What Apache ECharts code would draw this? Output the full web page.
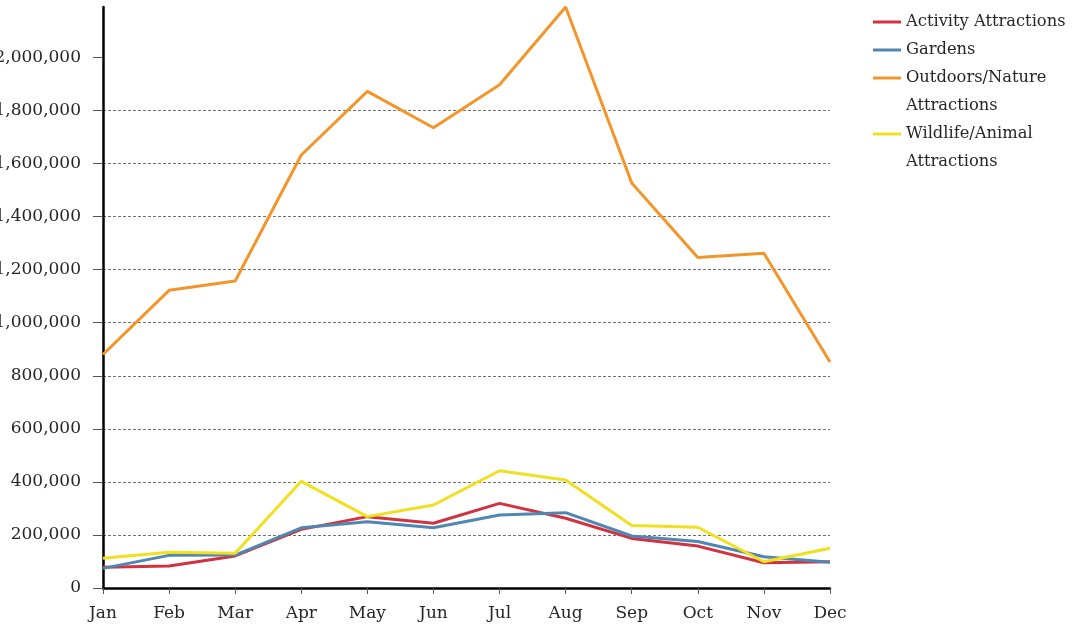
<!DOCTYPE html>
<html>
<head>
<meta charset="utf-8">
<title>Monthly visitors by attraction type</title>
<script src="https://cdn.jsdelivr.net/npm/echarts@6/dist/echarts.min.js"></script>
<style>
  html, body { margin: 0; padding: 0; background: #ffffff; }
  #chart { width: 1078px; height: 629px; }
</style>
</head>
<body>
<div id="chart"></div>
<script>
// Months along the x axis
const months = ['Jan', 'Feb', 'Mar', 'Apr', 'May', 'Jun', 'Jul', 'Aug', 'Sep', 'Oct', 'Nov', 'Dec'];

// Monthly visitors per attraction type
const activityAttractions = [78000, 83000, 121000, 221000, 269000, 244000, 319000, 263000, 187000, 158000, 95000, 99000];
const gardens = [74000, 123000, 124000, 227000, 250000, 227000, 275000, 284000, 196000, 175000, 118000, 97000];
const outdoorsNature = [880000, 1122000, 1157000, 1632000, 1872000, 1735000, 1897000, 2190000, 1527000, 1246000, 1262000, 852000];
const wildlifeAnimal = [112000, 135000, 131000, 402000, 269000, 313000, 442000, 407000, 236000, 229000, 99000, 150000];

// Value axis ticks
const yTicks = [0, 200000, 400000, 600000, 800000, 1000000, 1200000, 1400000, 1600000, 1800000, 2000000];

const seriesNames = ['Activity Attractions', 'Gardens', 'Outdoors/Nature\nAttractions', 'Wildlife/Animal\nAttractions'];
const seriesColors = ['#d2323f', '#4f87b2', '#f2962b', '#f1e01f'];
const seriesData = [activityAttractions, gardens, outdoorsNature, wildlifeAnimal];

const FONT = 'DejaVu Serif';
const TEXT_COLOR = '#262626';

const chart = echarts.init(document.getElementById('chart'), null, { renderer: 'canvas' });

// One legend block per entry; a blank first line keeps the swatch level with
// the first line of a two-line name (legend text is centred on the swatch).
const legendTops = [8, 36, 36, 92];
const legends = seriesNames.map((name, i) => {
  const twoLine = name.indexOf('\n') >= 0;
  return {
    data: [name],
    orient: 'vertical',
    left: 873,
    top: legendTops[i],
    padding: 0,
    icon: 'rect',
    itemWidth: 28,
    itemHeight: 3,
    selectedMode: false,
    formatter: n => (twoLine ? ' \n' + n : n),
    textStyle: {
      fontFamily: FONT,
      fontSize: 16.3,
      color: TEXT_COLOR,
      lineHeight: 28
    }
  };
});

chart.setOption({
  animation: false,
  backgroundColor: '#ffffff',
  legend: legends,
  grid: { left: 103, right: 248, top: 7, bottom: 41, containLabel: false, outerBoundsMode: 'none' },
  xAxis: {
    type: 'category',
    data: months,
    boundaryGap: false,
    axisLine: { lineStyle: { color: '#000000', width: 2.5 } },
    axisTick: { show: true, length: 6, alignWithLabel: true, lineStyle: { color: '#555555', width: 1 } },
    axisLabel: { fontFamily: FONT, fontSize: 17, color: TEXT_COLOR, margin: 17 },
    splitLine: { show: false }
  },
  yAxis: {
    type: 'value',
    min: 0,
    max: 'dataMax',
    axisLine: { show: true, lineStyle: { color: '#000000', width: 2.5 } },
    axisTick: { show: true, length: 10, customValues: yTicks, lineStyle: { color: '#555555', width: 1 } },
    axisLabel: {
      fontFamily: FONT,
      fontSize: 17,
      color: TEXT_COLOR,
      margin: 22,
      customValues: yTicks,
      formatter: v => v.toLocaleString('en-US')
    },
    splitLine: {
      show: true,
      showMinLine: false,
      showMaxLine: false,
      lineStyle: { color: '#707070', width: 1, type: [3, 2] }
    }
  },
  series: seriesNames.map((name, i) => ({
    name: name,
    type: 'line',
    data: seriesData[i],
    symbol: 'none',
    color: seriesColors[i],
    lineStyle: { width: 3, color: seriesColors[i] }
  }))
});
</script>
</body>
</html>
